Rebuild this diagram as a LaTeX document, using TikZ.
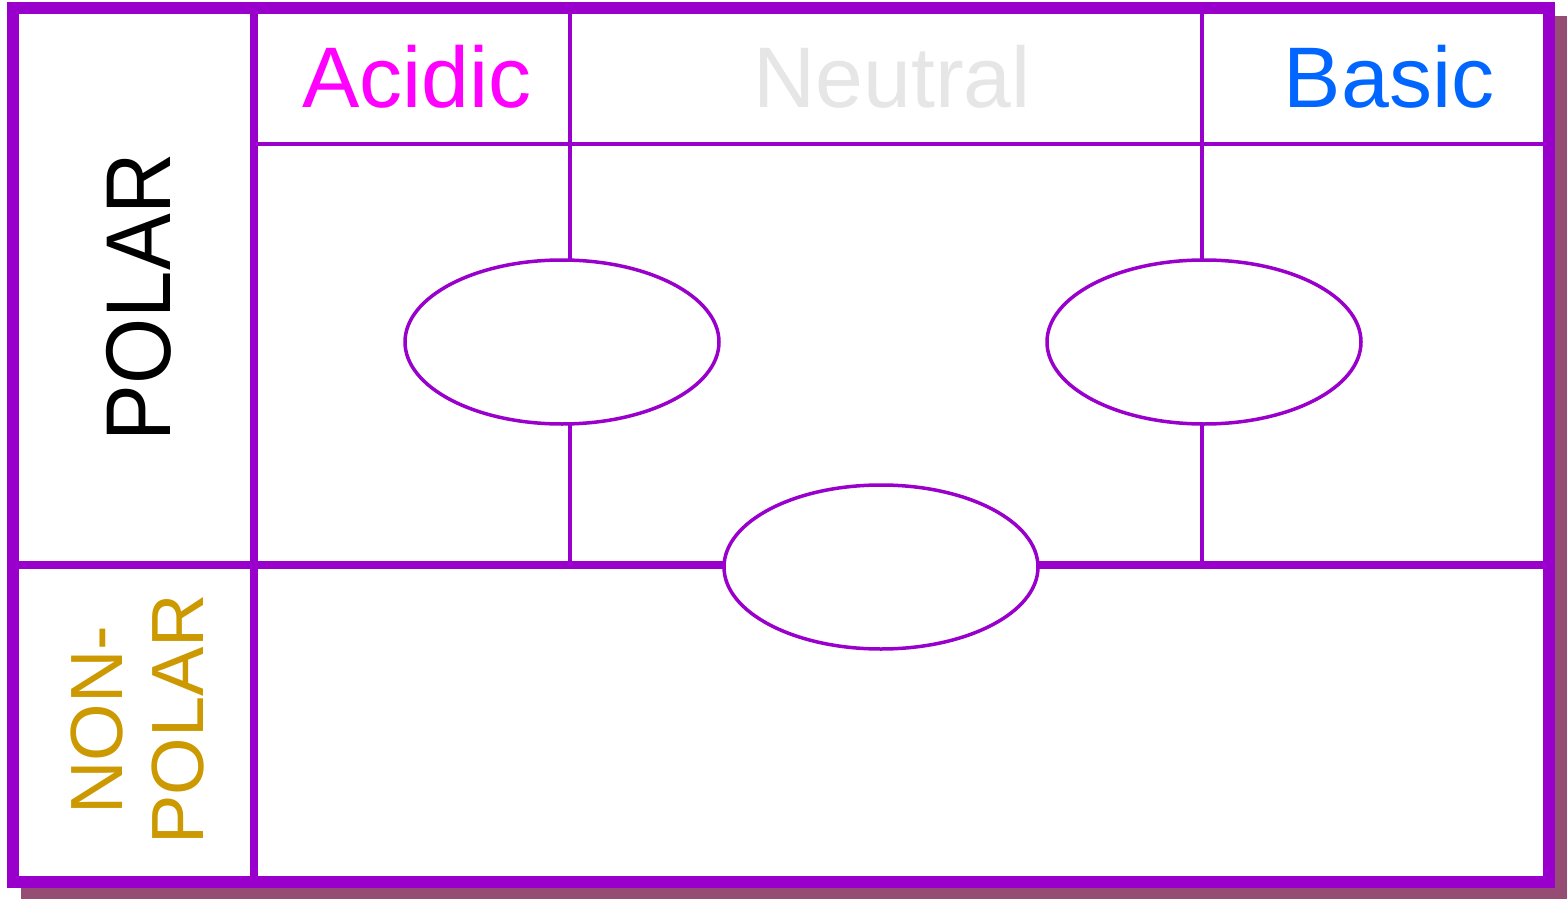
\documentclass[tikz,border=0pt]{standalone}
\usepackage{fontspec}
\setmainfont{Liberation Sans}
\usetikzlibrary{shapes.geometric}
\definecolor{frame}{RGB}{153,0,204}
\definecolor{shadow}{RGB}{150,77,115}
\definecolor{acid}{RGB}{255,0,255}
\definecolor{neutral}{RGB}{230,230,230}
\definecolor{basic}{RGB}{0,102,255}
\definecolor{nonpol}{RGB}{204,153,0}

\begin{document}
\begin{tikzpicture}[x=1pt,y=1pt,
  head label/.style={font=\fontsize{86}{100}\selectfont,anchor=base},
  side label/.style={font=\fontsize{74}{80}\selectfont,anchor=base,rotate=90,text=nonpol},
  group/.style={ellipse,draw=frame,fill=white,line width=3.5pt,
    minimum width=314pt,minimum height=164pt,inner sep=0pt}]
\useasboundingbox (0,0) rectangle (1567,-899);

% shadow and outer frame
\fill[shadow] (21,-16) rectangle (1567,-899);
\draw[frame,fill=white,line width=12pt] (13,-8) rectangle (1549,-882);

% grid points
\coordinate (coltop) at (254,-8);
\coordinate (colbot) at (254,-882);
\coordinate (rowleft) at (13,-565);
\coordinate (rowright) at (1549,-565);
\coordinate (headleft) at (254,-144);
\coordinate (headright) at (1549,-144);
\coordinate (acidtop) at (570,-8);
\coordinate (acidbot) at (570,-565);
\coordinate (basetop) at (1202,-8);
\coordinate (basebot) at (1202,-565);

% dividers
\draw[frame,line width=8pt] (coltop) -- (colbot);
\draw[frame,line width=8pt] (rowleft) -- (rowright);
\draw[frame,line width=4pt] (headleft) -- (headright);
\draw[frame,line width=4pt] (acidtop) -- (acidbot);
\draw[frame,line width=4pt] (basetop) -- (basebot);

% groups
\node[group] (acidgroup) at (562,-342) {};
\node[group] (basegroup) at (1204,-342) {};
\node[group] (neutgroup) at (881,-567) {};

% column heads
\node[head label,text=acid] (acidic) at (417,-107) {Acidic};
\node[head label,text=neutral] (neutral) at (892,-107) {Neutral};
\node[head label,text=basic] (basic) at (1389,-107) {Basic};

% row heads
\node[head label,font=\fontsize{92}{100}\selectfont,rotate=90,xscale=0.925] (polar) at (170,-297) {POLAR};
\node[side label] (non) at (122,-720) {NON-};
\node[side label] (nonpolar) at (203,-719) {POLAR};

\end{tikzpicture}
\end{document}
